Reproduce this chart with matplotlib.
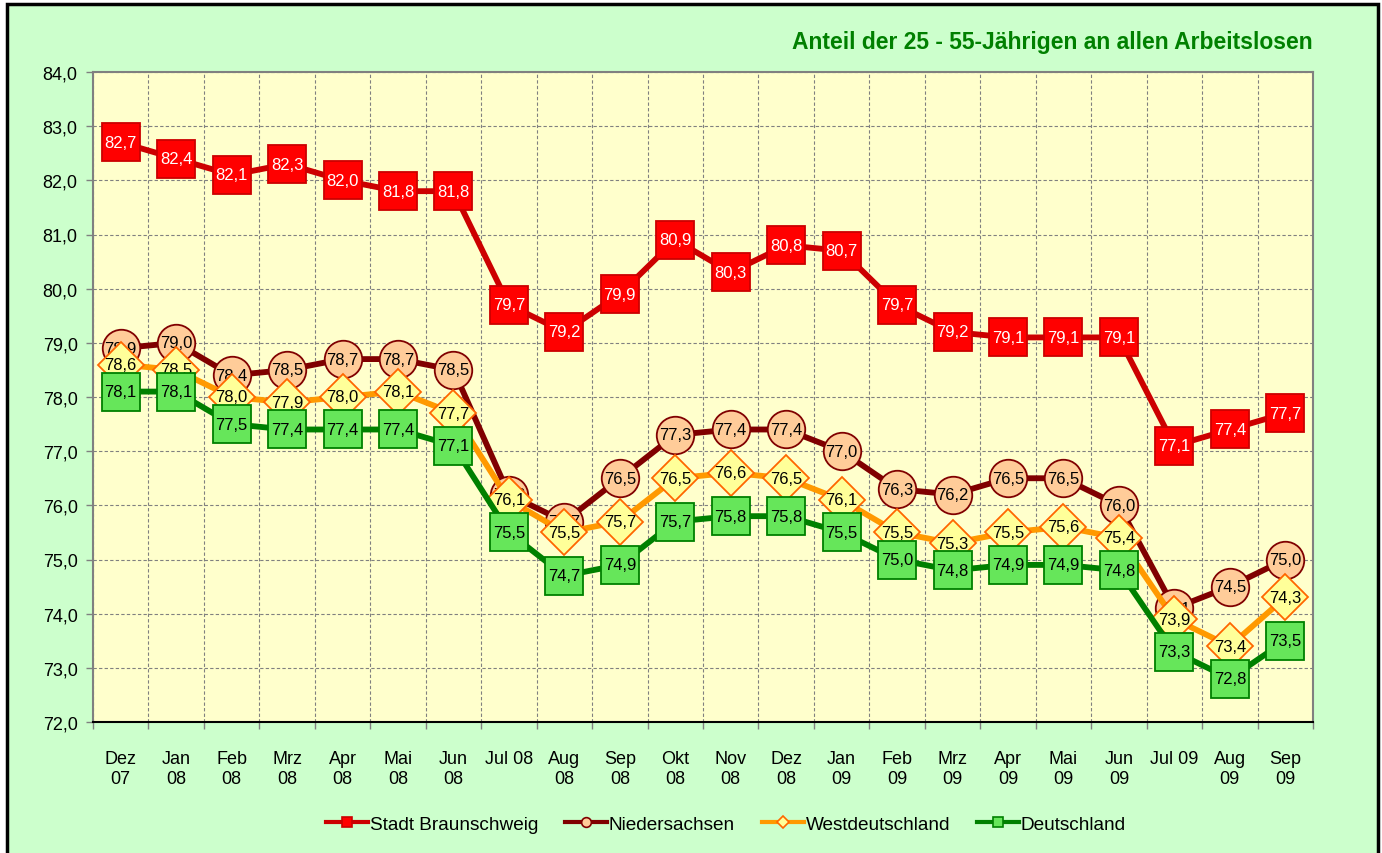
import matplotlib.pyplot as plt
from matplotlib.patches import Rectangle
from matplotlib.ticker import FixedLocator

plt.rcParams['font.family'] = ['Liberation Sans', 'DejaVu Sans']

months = ["Dez\n07", "Jan\n08", "Feb\n08", "Mrz\n08", "Apr\n08", "Mai\n08", "Jun\n08",
          "Jul 08", "Aug\n08", "Sep\n08", "Okt\n08", "Nov\n08", "Dez\n08", "Jan\n09",
          "Feb\n09", "Mrz\n09", "Apr\n09", "Mai\n09", "Jun\n09", "Jul 09", "Aug\n09", "Sep\n09"]

braunschweig = [82.7, 82.4, 82.1, 82.3, 82.0, 81.8, 81.8, 79.7, 79.2, 79.9, 80.9,
                80.3, 80.8, 80.7, 79.7, 79.2, 79.1, 79.1, 79.1, 77.1, 77.4, 77.7]
niedersachsen = [78.9, 79.0, 78.4, 78.5, 78.7, 78.7, 78.5, 76.2, 75.7, 76.5, 77.3,
                 77.4, 77.4, 77.0, 76.3, 76.2, 76.5, 76.5, 76.0, 74.1, 74.5, 75.0]
westdeutschland = [78.6, 78.5, 78.0, 77.9, 78.0, 78.1, 77.7, 76.1, 75.5, 75.7, 76.5,
                   76.6, 76.5, 76.1, 75.5, 75.3, 75.5, 75.6, 75.4, 73.9, 73.4, 74.3]
deutschland = [78.1, 78.1, 77.5, 77.4, 77.4, 77.4, 77.1, 75.5, 74.7, 74.9, 75.7,
               75.8, 75.8, 75.5, 75.0, 74.8, 74.9, 74.9, 74.8, 73.3, 72.8, 73.5]

series = [
    ("Stadt Braunschweig", braunschweig, "#CC0000", "s", 28, "#FF0000", "#CC0000", "white"),
    ("Niedersachsen", niedersachsen, "#800000", "o", 27, "#FFCC99", "#800000", "black"),
    ("Westdeutschland", westdeutschland, "#FF9900", "D", 23, "#FFFF99", "#FF6600", "black"),
    ("Deutschland", deutschland, "#008000", "s", 27, "#66E65A", "#008000", "black"),
]

fig = plt.figure(figsize=(13.82, 8.54), dpi=100)
fig.patch.set_facecolor("white")
fig.patches.append(Rectangle((7 / 1382, -0.01), 1371 / 1382, 1 - 5 / 854 + 0.01,
                             transform=fig.transFigure, facecolor="#CCFFCC",
                             edgecolor="black", linewidth=2.5, zorder=-1))

ax = fig.add_axes([93 / 1382, 131 / 854, 1220 / 1382, 650 / 854])
ax.set_zorder(1)
ax.set_facecolor("#FFFFCC")

x = list(range(len(months)))
handles = []
for i, (name, vals, lc, mk, ms, mfc, mec, tc) in enumerate(series):
    z = 3 + 2 * i
    ax.plot(x, vals, color=lc, lw=4.2, marker=mk, markersize=ms,
            markerfacecolor=mfc, markeredgecolor=mec, markeredgewidth=1.3, zorder=z)
    for xi, v in zip(x, vals):
        ax.text(xi, v, f"{v:.1f}".replace(".", ","), ha="center", va="center",
                fontsize=12, color=tc, zorder=z + 1)
    h, = ax.plot([], [], color=lc, lw=3, marker=mk, markersize=7 if mk != "D" else 6,
                 markerfacecolor=mfc, markeredgecolor=mec, markeredgewidth=1.2, label=name)
    handles.append(h)

ax.set_xlim(-0.5, len(months) - 0.5)
ax.set_ylim(72, 84)
ax.set_yticks(range(72, 85))
ax.set_yticklabels([f"{v},0" for v in range(72, 85)], fontsize=13)
ax.set_xticks(x)
ax.set_xticklabels(months, fontsize=13, linespacing=1.25)
ax.xaxis.set_minor_locator(FixedLocator([i - 0.5 for i in range(len(months) + 1)]))
ax.tick_params(axis="x", which="major", length=0, pad=20)
ax.tick_params(axis="x", which="minor", length=5, color="#808080", width=1)
ax.tick_params(axis="y", length=5, color="#808080", width=1, pad=6)

ax.grid(True, axis="y", which="major", color="#808080", ls=(0, (3, 2)), lw=0.8)
ax.grid(True, axis="x", which="minor", color="#808080", ls=(0, (3, 2)), lw=0.8)
ax.set_axisbelow(True)

for s in ["left", "top", "right"]:
    ax.spines[s].set_color("#808080")
    ax.spines[s].set_linewidth(1.5)
ax.spines["bottom"].set_color("black")
ax.spines["bottom"].set_linewidth(1.5)

fig.text(1313 / 1382, 1 - 42 / 854, "Anteil der 25 - 55-Jährigen an allen Arbeitslosen",
         ha="right", va="center", fontsize=16.5, fontweight="bold", color="#008000")

fig.legend(handles=handles, loc="center", bbox_to_anchor=(726 / 1382, 29 / 854),
           ncol=4, frameon=False, fontsize=13.7, handlelength=2.2, handletextpad=0.1,
           columnspacing=1.4)

fig.savefig("out.png", dpi=100, facecolor=fig.get_facecolor())
